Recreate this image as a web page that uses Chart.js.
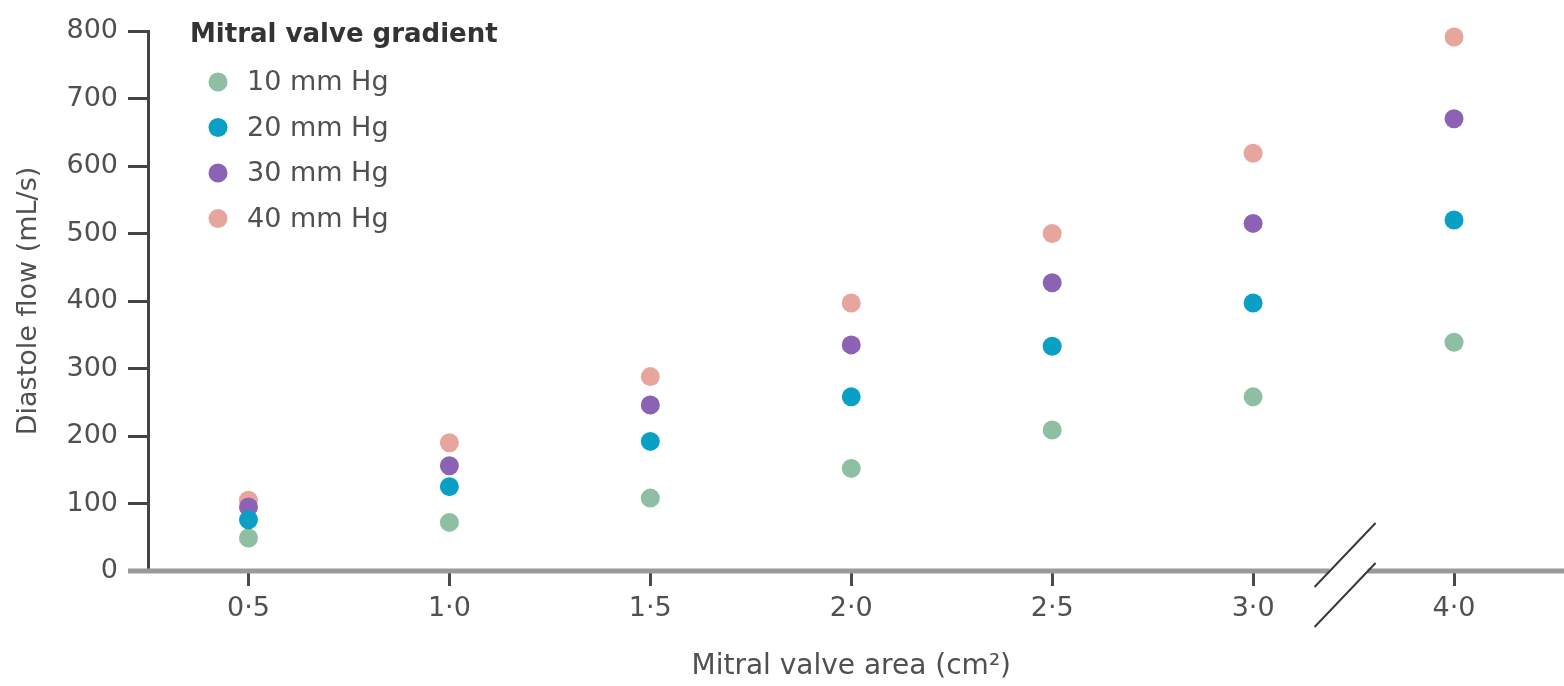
<!DOCTYPE html>
<html>
<head>
<meta charset="utf-8">
<title>Diastole flow by mitral valve area</title>
<script src="https://cdn.jsdelivr.net/npm/chart.js@4/dist/chart.umd.min.js"></script>
<style>
  html, body { margin: 0; padding: 0; background: #ffffff; }
  #wrap { width: 1564px; height: 686px; }
</style>
</head>
<body>
<div id="wrap"><canvas id="chart" width="1564" height="686"></canvas></div>
<script>
// Mitral valve area categories (cm²); the axis is broken between 3·0 and 4·0
const areaLabels = ['0·5', '1·0', '1·5', '2·0', '2·5', '3·0', '4·0'];

// Diastole flow (mL/s) for each mitral valve gradient
const flow10 = [49, 72, 108, 152, 209, 258, 339];
const flow20 = [76, 125, 192, 258, 333, 397, 520];
const flow30 = [95, 156, 246, 335, 427, 515, 670];
const flow40 = [105, 190, 288, 397, 500, 619, 791];

const seriesNames = ['10 mm Hg', '20 mm Hg', '30 mm Hg', '40 mm Hg'];
const yTicks = [0, 100, 200, 300, 400, 500, 600, 700, 800];

const legendTitle = 'Mitral valve gradient';
const FONT = "'DejaVu Sans', sans-serif";
const TEXT = '#505050';

// Draws the x axis line, the axis break and the legend block
const decorations = {
  id: 'decorations',
  beforeDatasetsDraw(chart) {
    const { ctx, chartArea, scales } = chart;
    const y = chartArea.bottom;
    ctx.save();
    // x axis line, running under the y ticks and to the right edge
    ctx.strokeStyle = '#9a9a9a';
    ctx.lineWidth = 5;
    ctx.beginPath();
    ctx.moveTo(chartArea.left - 20, y);
    ctx.lineTo(chart.width, y);
    ctx.stroke();

    // break between the last two categories
    const c = (scales.x.getPixelForValue(5) + scales.x.getPixelForValue(6)) / 2 - 5;
    ctx.fillStyle = '#ffffff';
    ctx.fillRect(c - 19, y - 4, 38, 8);
    ctx.strokeStyle = '#3a3a3a';
    ctx.lineWidth = 2;
    ctx.beginPath();
    ctx.moveTo(c - 34, y + 16);
    ctx.lineTo(c + 27, y - 48);
    ctx.moveTo(c - 34, y + 56);
    ctx.lineTo(c + 27, y - 8);
    ctx.stroke();
    ctx.restore();
  },
  afterDraw(chart) {
    const { ctx, chartArea } = chart;
    const x0 = chartArea.left + 42;
    ctx.save();
    ctx.textBaseline = 'middle';
    ctx.textAlign = 'left';
    ctx.fillStyle = '#333333';
    ctx.font = "bold 26px " + FONT;
    ctx.fillText(legendTitle, x0, chartArea.top + 4);
    ctx.font = "27px " + FONT;
    chart.data.datasets.forEach((ds, i) => {
      const cy = chartArea.top + 51 + i * 45.5;
      ctx.fillStyle = ds.backgroundColor;
      ctx.beginPath();
      ctx.arc(x0 + 28, cy, 9.5, 0, Math.PI * 2);
      ctx.fill();
      ctx.fillStyle = TEXT;
      ctx.fillText(ds.label, x0 + 57, cy + 1);
    });
    ctx.restore();
  }
};

function series(label, data, color, order) {
  return {
    label, data,
    backgroundColor: color,
    borderColor: color,
    borderWidth: 0,
    pointRadius: 9.5,
    pointHoverRadius: 9.5,
    showLine: false,
    clip: false,
    order
  };
}

new Chart(document.getElementById('chart'), {
  type: 'line',
  data: {
    labels: areaLabels,
    datasets: [
      series(seriesNames[0], flow10, '#8ebfa3', 1),
      series(seriesNames[1], flow20, '#0aa0c6', 0),
      series(seriesNames[2], flow30, '#8c63b4', 2),
      series(seriesNames[3], flow40, '#e6a59d', 3)
    ]
  },
  options: {
    responsive: false,
    devicePixelRatio: 1,
    animation: false,
    layout: { padding: { left: 0, right: 8, top: 31, bottom: 0 } },
    plugins: { legend: { display: false }, tooltip: { enabled: false } },
    scales: {
      x: {
        type: 'category',
        offset: true,
        border: { display: false },
        grid: {
          drawOnChartArea: false,
          offset: false,
          tickLength: 15,
          tickWidth: 3,
          tickColor: '#4a4a4a'
        },
        ticks: { color: TEXT, font: { family: FONT, size: 27 }, padding: 7, maxRotation: 0 },
        title: {
          display: true,
          text: 'Mitral valve area (cm²)',
          color: TEXT,
          font: { family: FONT, size: 28 },
          padding: { top: 0, bottom: 2 }
        },
        afterFit(scale) { scale.height = 115; }
      },
      y: {
        min: 0,
        max: 800,
        border: { display: true, color: '#444444', width: 3 },
        grid: {
          drawOnChartArea: false,
          tickLength: 20,
          tickWidth: 3,
          tickColor: '#444444'
        },
        afterBuildTicks(scale) { scale.ticks = yTicks.map(v => ({ value: v })); },
        ticks: { color: TEXT, font: { family: FONT, size: 27 }, padding: 10 },
        title: {
          display: true,
          text: 'Diastole flow (mL/s)',
          color: TEXT,
          font: { family: FONT, size: 27 },
          padding: { top: 13, bottom: 0 }
        },
        afterFit(scale) { scale.width = 148; }
      }
    }
  },
  plugins: [decorations]
});
</script>
</body>
</html>
